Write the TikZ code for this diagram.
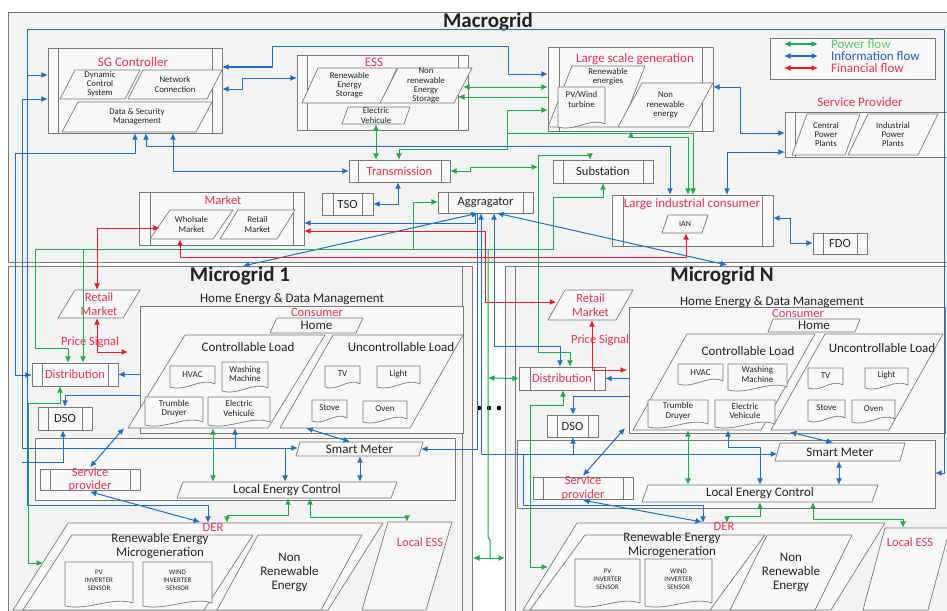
\documentclass[tikz,border=0pt]{standalone}
\usepackage{fontspec}
\setmainfont{Carlito}
\usetikzlibrary{arrows.meta}
\definecolor{fb}{RGB}{30,110,200}
\definecolor{fg}{RGB}{30,170,70}
\definecolor{fr}{RGB}{230,30,40}
\definecolor{tr}{RGB}{232,52,80}
\definecolor{bx}{RGB}{120,120,120}
\definecolor{bgf}{RGB}{243,243,243}
\definecolor{inf}{RGB}{248,248,248}
\definecolor{tx}{RGB}{35,35,35}
\definecolor{lgg}{RGB}{90,200,110}
\definecolor{lgb}{RGB}{40,90,200}
\newcommand{\fzA}{\fontsize{9}{9.5}\selectfont}
\newcommand{\fzP}{\fontsize{7}{8}\selectfont}
\newcommand{\fzI}{\fontsize{8}{9}\selectfont}
\newcommand{\fzB}{\fontsize{8.8}{9.1}\selectfont}
\newcommand{\fzC}{\fontsize{12.5}{13.5}\selectfont}
\newcommand{\fzD}{\fontsize{13}{14}\selectfont}
\newcommand{\fzE}{\fontsize{21}{24}\selectfont}
\tikzset{
  every node/.style={align=center, inner sep=0pt, text=tx, font=\fzB},
  frame/.style={draw=bx, line width=0.9pt, fill=bgf},
  proc/.style={draw=bx, line width=0.8pt, fill=inf},
  pshape/.style={draw=bx, line width=0.7pt, fill=inf},
  ib/.style={draw=fb, line width=1pt},
  gb/.style={draw=fg, line width=1pt},
  rb/.style={draw=fr, line width=1pt},
  ttl/.style={text=tr, font=\fzD},
  rtx/.style={text=tr, font=\fzC},
}
% name, opts, x1, y1, x2, y2, inset, text
\newcommand{\procbox}[8]{%
  \draw[proc] (#3,#4) rectangle (#5,#6);
  \draw[bx,line width=0.6pt] ({#3+#7},#4) -- ({#3+#7},#6) ({#5-#7},#4) -- ({#5-#7},#6);
  \node[minimum width={#5-#3}, minimum height={#6-#4}, #2] (#1) at ({(#3+#5)/2},{(#4+#6)/2}) {#8};}
% name, opts, x top-left, x top-right, x bottom-left, y top, y bottom, text
\newcommand{\pgram}[8]{%
  \draw[pshape] (#3,#6) -- (#4,#6) -- ({#5+#4-#3},#7) -- (#5,#7) -- cycle;
  \node[minimum width={#4-#3}, minimum height={#7-#6}, #2] (#1) at ({(#4+#5)/2},{(#6+#7)/2}) {#8};}
% name, opts, x1, y1, x2, y2, dy, text
\newcommand{\docshape}[8]{%
  \draw[pshape] (#3,#4) -- (#5,#4) -- (#5,{#6-4}) .. controls ({#5-(#5-#3)*0.3},{#6-11}) and ({#3+(#5-#3)*0.35},{#6+4}) .. (#3,{#6-1}) -- cycle;
  \node[minimum width={#5-#3}, minimum height={#6-#4}, #2] (#1) at ({(#3+#5)/2},{(#4+#6)/2+#7}) {#8};}
\newcommand{\plainbox}[5]{%
  \draw[proc] (#2,#3) rectangle (#4,#5);
  \node[minimum width={#4-#2}, minimum height={#5-#3}] (#1) at ({(#2+#4)/2},{(#3+#5)/2}) {};}
\begin{document}
\begin{tikzpicture}[x=1pt,y=-1pt,>={Latex[length=6.5pt,width=6pt]},line join=round]
\useasboundingbox (0,0) rectangle (947,610);
\fill[white] (0,0) rectangle (947,610);
% frames
\draw[frame] (8,12) rectangle (952,262);
\draw[frame] (8,266) rectangle (472,616);
\draw[bx,line width=0.7pt] (462,266) -- (462,616);
\draw[frame] (505,266) rectangle (952,616);
\draw[bx,line width=0.7pt] (515,266) -- (515,616);
\node[font=\fzE\bfseries] (tmac) at (488,22) {Macrogrid};
\node[font=\fzE\bfseries] (tm1) at (240,276) {Microgrid 1};
\node[font=\fzE\bfseries] (tmn) at (722,276) {Microgrid N};
% SG Controller
\procbox{sg}{}{48}{48}{222}{133}{10}{}
\node[ttl] (sgt) at (133,62) {SG Controller};
\pgram{dcs}{}{75}{140}{60}{70}{99}{Dynamic\\Control\\System}
\pgram{nc}{}{143}{222}{128}{70}{99}{Network\\Connection}
\pgram{dsm}{}{78}{212}{62}{102}{132}{Data \& Security\\Management}
% ESS
\procbox{ess}{}{297}{55}{468}{130}{10}{}
\node[ttl] (esst) at (374,62) {ESS};
\pgram{res}{}{318}{397}{302}{68}{103}{Renewable\\Energy\\Storage}
\pgram{nres}{}{398}{472}{380}{68}{103}{Non\\renewable\\Energy\\Storage}
\pgram{ev}{}{348}{410}{342}{107}{124}{Electric\\Vehicule}
% Large scale generation
\procbox{lsg}{}{548}{47}{713}{131}{11}{}
\node[ttl] (lsgt) at (635,59) {Large scale generation};
\pgram{renen}{}{572}{645}{548}{66}{127}{}
\node (renent) at (608,77) {Renewable\\energies};
\docshape{pvw}{}{558}{87}{605}{128}{-8}{PV/Wind\\turbine}
\pgram{nren}{}{642}{713}{618}{83}{127}{Non\\renewable\\energy}
% legend
\draw[proc] (770,38) rectangle (935,79);
\node[minimum width=165,minimum height=41] (leg) at (852.5,58.5) {};
\draw[fg,line width=1.4pt,<->] (784,44) -- (818,44);
\draw[fb,line width=1.4pt,<->] (784,56) -- (818,56);
\draw[fr,line width=1.4pt,<->] (784,68) -- (818,68);
\node[anchor=west,font=\fzD,text=lgg] (lg1) at (831,44) {Power flow};
\node[anchor=west,font=\fzD,text=lgb] (lg2) at (831,56) {Information flow};
\node[anchor=west,font=\fzD,text=tr] (lg3) at (831,68) {Financial flow};
% Service provider
\node[ttl] (spt) at (860,102) {Service Provider};
\procbox{sp}{}{785}{112}{960}{157}{10}{}
\pgram{cpp}{}{807}{860}{792}{114}{155}{Central\\Power\\Plants}
\pgram{ipp}{}{868}{938}{848}{114}{155}{Industrial\\Power\\Plants}
% middle boxes
\procbox{trans}{rtx}{349}{160}{450}{182}{9}{Transmission}
\procbox{subs}{font=\fzC}{553}{160}{653}{183}{10}{Substation}
\procbox{tso}{font=\fzC}{322}{193}{373}{215}{11}{TSO}
\procbox{agg}{font=\fzC}{438}{192}{533}{213}{10}{Aggragator}
\procbox{mkt}{}{139}{192}{304}{245}{11}{}
\node[rtx] (mktt) at (223,200) {Market};
\pgram{wm}{}{170}{233}{150}{210}{239}{Wholsale\\Market}
\pgram{rm}{}{238}{295}{220}{210}{239}{Retail\\Market}
\procbox{lic}{}{612}{195}{773}{246}{11}{}
\node[ttl] (lict) at (692,204) {Large industrial consumer};
\pgram{ian}{font=\fzI}{668}{708}{662}{215}{233}{IAN}
\procbox{fdo}{font=\fzC}{813}{233}{867}{254}{10}{FDO}
% ---------- Microgrid 1
\node[font=\fzD] (hed1) at (292,299) {Home Energy \& Data Management};
\pgram{rm1}{rtx}{75}{140}{58}{290}{318}{Retail\\Market}
\node[rtx] (ps1) at (90,342) {Price Signal};
\plainbox{cons1}{140}{306}{463}{433}
\node[rtx] (cons1t) at (317,312) {Consumer};
\pgram{home1}{font=\fzD}{277}{363}{270}{318}{333}{Home}
\pgram{cl1}{}{185}{325}{128}{335}{428}{}
\node[font=\fzD] (cl1t) at (248,347) {Controllable Load};
\pgram{ul1}{}{333}{463}{280}{335}{428}{}
\node[font=\fzD] (ul1t) at (401,347) {Uncontrollable Load};
\docshape{hvac1}{font=\fzA}{170}{366}{215}{388}{-2}{HVAC}
\docshape{wash1}{font=\fzA}{222}{362}{268}{392}{-3}{Washing\\Machine}
\docshape{td1}{font=\fzA}{145}{397}{203}{426}{-3}{Trumble\\Druyer}
\docshape{evc1}{font=\fzA}{208}{397}{270}{426}{-3}{Electric\\Vehicule}
\docshape{tv1}{font=\fzA}{325}{366}{360}{388}{-3}{TV}
\docshape{li1}{font=\fzA}{377}{366}{420}{388}{-3}{Light}
\docshape{st1}{font=\fzA}{312}{400}{347}{422}{-3}{Stove}
\docshape{ov1}{font=\fzA}{363}{401}{407}{423}{-3}{Oven}
\procbox{dist1}{rtx}{32}{363}{118}{386}{10}{Distribution}
\procbox{dso1}{font=\fzC}{38}{407}{92}{430}{10}{DSO}
\plainbox{band1}{35}{438}{455}{500}
\pgram{sm1}{font=\fzD}{300}{423}{296}{442}{456}{Smart Meter}
\pgram{lec1}{font=\fzD}{183}{397}{177}{482}{498}{Local Energy Control}
\procbox{sp1}{rtx}{40}{469}{140}{490}{10}{Service\\provider}
\pgram{der1}{}{68}{383}{13}{523}{610}{}
\node[rtx] (der1t) at (213,527) {DER};
\pgram{rem1}{}{72}{253}{23}{535}{610}{}
\node[font=\fzD] (rem1t) at (160,546) {Renewable Energy\\Microgeneration};
\docshape{pv1}{font=\fzP}{65}{562}{133}{607}{-4}{PV\\INVERTER\\SENSOR}
\docshape{wd1}{font=\fzP}{143}{562}{212}{607}{-4}{WIND\\INVERTER\\SENSOR}
\pgram{nre1}{font=\fzD}{258}{362}{217}{535}{610}{Non\\Renewable\\Energy}
\pgram{les1}{}{388}{452}{362}{522}{610}{}
\node[rtx] (les1t) at (420,542) {Local ESS};
% ---------- Microgrid N
\node[font=\fzD] (hedn) at (772,302) {Home Energy \& Data Management};
\pgram{rmN}{rtx}{565}{633}{548}{290}{320}{Retail\\Market}
\node[rtx] (psN) at (600,340) {Price Signal};
\plainbox{consN}{629}{307}{945}{433}
\node[rtx] (consNt) at (798,313) {Consumer};
\pgram{homeN}{font=\fzD}{773}{860}{768}{319}{332}{Home}
\pgram{clN}{}{687}{815}{633}{334}{430}{}
\node[font=\fzD] (clNt) at (748,351) {Controllable Load};
\pgram{ulN}{}{825}{943}{771}{334}{430}{}
\node[font=\fzD] (ulNt) at (882,348) {Uncontrollable Load};
\docshape{hvacN}{font=\fzA}{678}{364}{723}{385}{-2}{HVAC}
\docshape{washN}{font=\fzA}{728}{364}{787}{391}{-3}{Washing\\Machine}
\docshape{tdN}{font=\fzA}{648}{400}{708}{428}{-3}{Trumble\\Druyer}
\docshape{evcN}{font=\fzA}{715}{400}{775}{428}{-3}{Electric\\Vehicule}
\docshape{tvN}{font=\fzA}{808}{368}{843}{389}{-3}{TV}
\docshape{liN}{font=\fzA}{865}{368}{908}{389}{-3}{Light}
\docshape{stN}{font=\fzA}{808}{400}{845}{422}{-3}{Stove}
\docshape{ovN}{font=\fzA}{852}{400}{895}{423}{-3}{Oven}
\procbox{distN}{rtx}{519}{367}{605}{390}{11}{Distribution}
\procbox{dsoN}{font=\fzC}{547}{415}{598}{437}{10}{DSO}
\fill[black] (479,408) circle[radius=2.3] (489,408) circle[radius=2.3] (499,408) circle[radius=2.3];
\plainbox{bandN}{517}{440}{935}{508}
\pgram{smN}{font=\fzD}{780}{905}{775}{443}{461}{Smart Meter}
\pgram{lecN}{font=\fzD}{648}{878}{642}{485}{502}{Local Energy Control}
\procbox{spN}{rtx}{533}{477}{633}{499}{10}{Service\\provider}
\pgram{derN}{}{577}{885}{523}{523}{610}{}
\node[rtx] (derNt) at (724,526) {DER};
\pgram{remN}{}{585}{765}{530}{535}{610}{}
\node[font=\fzD] (remNt) at (672,545) {Renewable Energy\\Microgeneration};
\docshape{pvN}{font=\fzP}{575}{559}{640}{607}{-4}{PV\\INVERTER\\SENSOR}
\docshape{wdN}{font=\fzP}{645}{559}{712}{607}{-4}{WIND\\INVERTER\\SENSOR}
\pgram{nreN}{font=\fzD}{767}{852}{730}{535}{610}{Non\\Renewable\\Energy}
\pgram{lesN}{}{885}{950}{863}{528}{610}{}
\node[rtx] (lesNt) at (910,542) {Local ESS};
% ---------- information flow (blue)
\draw[ib,->] (27,30) -- (944,30) -- (944,473) -- (bandN.east |- 0,473);
\draw[ib,->] (27,30) -- (27,505) -- (208,505) -- (208,0 |- der1.north);
\draw[ib,->] (27,75) -- (27,75 -| sg.west);
\draw[ib,<->] (22,99 -| sg.west) -- (22,99) -- (22,448) -- (22,448 -| sm1.west);
\draw[ib,<->] (135,0 |- sg.south) -- (135,153) -- (15,153) -- (15,375) -- (15,375 -| dist1.west);
\draw[ib,<->] (146,0 |- sg.south) -- (146,146) -- (670,146) -- (670,0 |- lic.north);
\draw[ib,<->] (173,0 |- sg.south) -- (173,171) -- (173,171 -| trans.west);
\draw[ib,<->] (sg.east |- 0,67) -- (272,67) -- (272,47) -- (508,47) -- (508,74) -- (508,74 -| lsg.west);
\draw[ib,<->] (sg.east |- 0,89) -- (242,89) -- (242,78) -- (242,78 -| ess.west);
\draw[ib,<->] (398,0 |- trans.south) -- (398,204) -- (398,204 -| tso.east);
\draw[ib,<->] (lsg.east |- 0,87) -- (740,87) -- (740,133) -- (740,133 -| sp.west);
\draw[ib,<->] (sp.west |- 0,152) -- (727,152) -- (727,0 |- lic.north);
\draw[ib,<->] (lic.east |- 0,218) -- (790,218) -- (790,243) -- (790,243 -| fdo.west);
\draw[ib,->] (475,0 |- agg.south) -- (475,223) -- (475,223 -| mkt.east);
\draw[ib,<->] (478,0 |- agg.south) -- (243,266);
\draw[ib,<->] (497,0 |- agg.south) -- (727,265);
\draw[ib,<->] (481,0 |- agg.south) -- (481,454) -- (481,454 -| smN.west);
\draw[ib,<->] (494,0 |- agg.south) -- (494,346) -- (560,346) -- (560,0 |- distN.north);
\draw[ib,->] (477,0 |- agg.south) -- (477,449) -- (477,449 -| sm1.east);
\draw[ib,->] (cons1.west |- dist1.east) -- (dist1.east);
\draw[ib,->] (cons1.west |- 0,395) -- (65,395) -- (65,0 |- dso1.north);
\draw[ib,<-] (63,0 |- dso1.south) -- (63,462) -- (22,462);
\draw[ib,<->] (sp1.north) -- (124,428);
\draw[ib,<->] (sp1.south) -- (200,522);
\draw[ib,<->] (235,0 |- cl1.south) -- (235,448) -- (285,448) -- (285,0 |- lec1.north);
\draw[ib,<->] (ul1.south west) -- (350,0 |- sm1.north);
\draw[ib,<->] (360,0 |- sm1.south) -- (360,0 |- lec1.north);
\draw[ib,->] (consN.west |- distN.east) -- (distN.east);
\draw[ib,->] (consN.west |- 0,396) -- (573,396) -- (573,0 |- dsoN.north);
\draw[ib,<-] (573,0 |- dsoN.south) -- (573,454);
\draw[ib,<->] (spN.north) -- (625,428);
\draw[ib,<->] (spN.south) -- (702,522);
\draw[ib,->] (523,454) -- (523,505) -- (703,505) -- (703,0 |- derN.north);
\draw[ib,<->] (728,0 |- clN.south) -- (728,447) -- (760,447) -- (760,0 |- lecN.north);
\draw[ib,<->] (790,432) -- (833,0 |- smN.north);
\draw[ib,<->] (839,0 |- smN.south) -- (839,0 |- lecN.north);
% ---------- power flow (green)
\draw[gb,<->] (ev.south) -- (ev.south |- trans.north);
\draw[gb,<->] (399,0 |- trans.north) -- (399,149) -- (507,149) -- (507,110) -- (507,110 -| lsg.west);
\draw[gb,<->] (nres.east |- 0,87) -- (lsg.west |- 0,87);
\draw[gb,<-] (458,97) -- (lsg.west |- 0,97);
\draw[gb,<->] (631,0 |- lsg.south) -- (631,137) -- (688,137) -- (688,0 |- lic.north);
\draw[gb,->] (507,133) -- (693,133) -- (693,0 |- lic.north);
\draw[gb,<->] (trans.east) -- (470,171) -- (470,167) -- (538,167);
\draw[gb,->] (538,155) -- (538,352) -- (570,352) -- (570,0 |- distN.north);
\draw[gb,->] (538,155) -- (590,155) -- (590,0 |- subs.north);
\draw[gb,<->] (603,0 |- subs.south) -- (603,197) -- (553,197) -- (553,249) -- (35,249) -- (35,348) -- (68,348) -- (68,0 |- dist1.north);
\draw[gb,->] (83,249) -- (83,0 |- dist1.north);
\draw[gb,->] (413,249) -- (413,202) -- (413,202 -| agg.west);
\draw[gb,<->] (60,0 |- dist1.south) -- (60,403) -- (28,403) -- (28,563) -- (43,563);
\draw[gb,<->] (213,0 |- cl1.south) -- (213,0 |- lec1.north);
\draw[gb,<->] (288,0 |- lec1.south) -- (288,515) -- (227,515) -- (227,0 |- der1.north);
\draw[gb,<->] (310,0 |- lec1.south) -- (310,517) -- (407,517) -- (407,0 |- les1.north);
\draw[gb] (488,249) -- (488,537) -- (490,540) -- (490,558);
\draw[gb,->] (490,558) -- (473,558);
\draw[gb,->] (490,558) -- (505,558);
\draw[gb,<->] (488,378) -- (distN.west);
\draw[gb,<->] (563,0 |- distN.south) -- (563,405) -- (530,405) -- (530,567) -- (548,567);
\draw[gb,<->] (688,0 |- clN.south) -- (688,0 |- lecN.north);
\draw[gb,<->] (760,0 |- lecN.south) -- (760,516) -- (727,516) -- (727,0 |- derN.north);
\draw[gb,<->] (813,0 |- lecN.south) -- (813,519) -- (903,519) -- (903,0 |- lesN.north);
% ---------- financial flow (red)
\draw[rb,<->] (97,0 |- rm1.north) -- (97,228) -- (97,228 -| wm.west);
\draw[rb,<->] (180,0 |- wm.south) -- (180,257) -- (686,257) -- (686,0 |- ian.south);
\draw[rb,<->] (mkt.east |- 0,231) -- (485,231) -- (485,302) -- (485,302 -| rmN.west);
\draw[rb,<->] (97,0 |- rm1.south) -- (97,352) -- (128,352);
\draw[rb,<->] (592,0 |- rmN.south) -- (592,370) -- (627,370);
\end{tikzpicture}
\end{document}
